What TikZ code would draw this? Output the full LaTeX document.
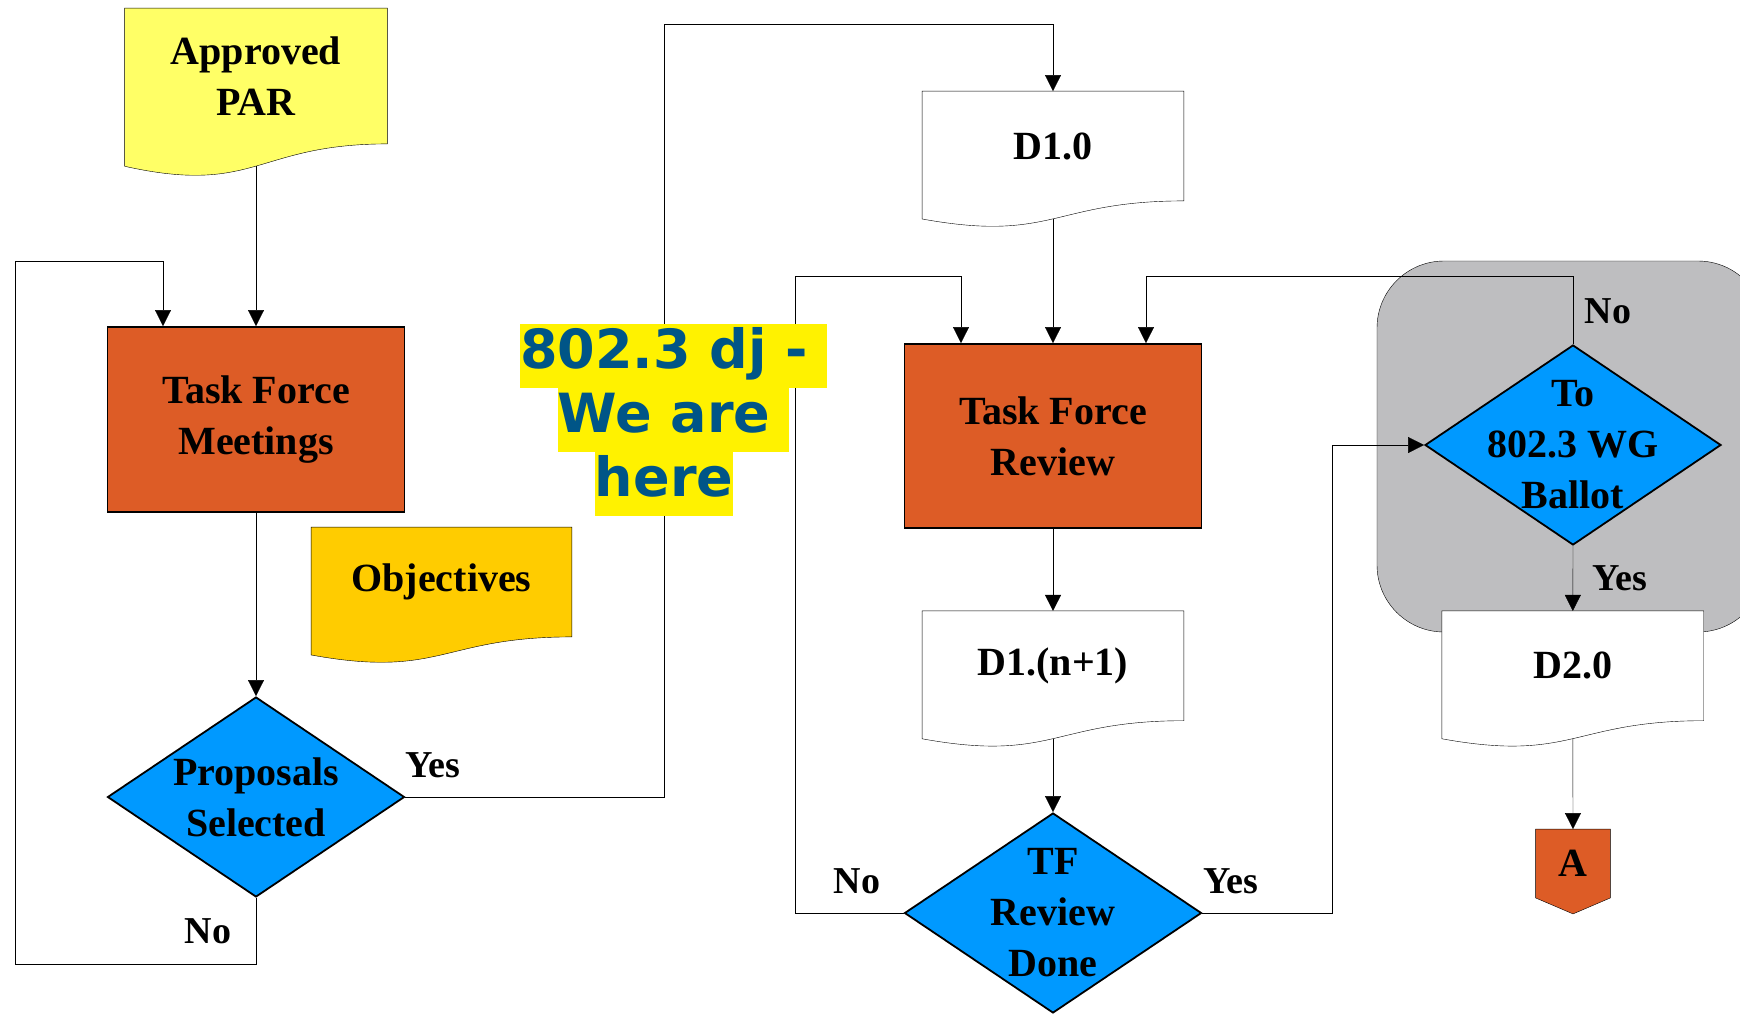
\documentclass[tikz,border=0pt]{standalone}
\usepackage{fontspec}
\setmainfont{Liberation Serif}
\newfontfamily\herefont{DejaVu Sans}
\usetikzlibrary{shapes.geometric, arrows.meta, positioning, calc, backgrounds}

\definecolor{parYellow}{RGB}{255,255,102}
\definecolor{objGold}{RGB}{255,204,0}
\definecolor{tfOrange}{RGB}{221,92,38}
\definecolor{decBlue}{RGB}{0,153,255}
\definecolor{wgGray}{RGB}{190,190,192}
\definecolor{hereBlue}{RGB}{0,85,135}

% document outline below a node, plus a foot coordinate
\newcommand\docwave[2]{%
  \path[draw, fill=#2] let \p1=(#1.north east), \p2=(#1.south west),
      \n1={\y1-\y2}, \n2={(\x1+\x2)/2} in
    (\x2,\y1) -- (\p1) -- (\x1,\y2)
    .. controls (\n2,\y2) and (\n2,\y2-0.381*\n1) .. (\x2,\y2-0.1646*\n1) -- cycle
    (\n2,\y2-0.163*\n1) coordinate (#1-foot);}
\newcommand\hl[1]{{\setlength\fboxsep{0pt}\colorbox{yellow}{\strut #1}}}

\begin{document}
\begin{tikzpicture}[
  x=1pt, y=-1pt,
  line width=1.8pt,
  >={Triangle[width=16pt,length=16pt]},
  body/.style={font=\bfseries\fontsize{40}{51}\selectfont, align=center},
  box/.style={body, rectangle, draw, fill=tfOrange, minimum width=297pt, minimum height=185pt},
  decide/.style={diamond, draw, fill=decBlue, minimum width=297pt, minimum height=200pt, inner sep=0pt},
  doc/.style={body, rectangle, minimum width=260pt, minimum height=108pt},
  lbl/.style={font=\bfseries\fontsize{38}{46}\selectfont, anchor=base},
  hereNote/.style={font=\herefont\bfseries\fontsize{54}{64}\selectfont, text=hereBlue, align=center, inner sep=0pt}]

  \useasboundingbox (0,0) rectangle (1740,1013);

  \node[doc, minimum width=261pt, minimum height=134pt] (par) at (256,76) {Approved\\PAR};
  \node[box] (tfm) at (256,419.5) {Task Force\\Meetings};
  \node[doc, minimum width=259pt] (obj) at (441.5,582) {Objectives};
  \node[decide, label={[body]center:{Proposals\\Selected}}] (sel) at (256,797) {};

  \node[doc] (d10) at (1053,146) {D1.0};
  \node[box, minimum height=184pt] (tfr) at (1053,436) {Task Force\\Review};
  \node[doc, below=82pt of tfr] (d1n) {D1.(n+1)};
  \node[decide, label={[body]center:{TF\\Review\\Done}}] (done) at (1053,913) {};

  \node[decide, minimum width=296pt, label={[body]center:{To\\802.3 WG\\Ballot}}] (wg) at (1573,445) {};
  \node[doc, right=258pt of d1n] (d20) {D2.0};
  \node[body, minimum width=73pt, minimum height=67pt, inner sep=0pt] (offA) at (1573,863.5) {A};

  \begin{pgfonlayer}{background}
    \draw[fill=wgGray, rounded corners=67pt] (1377,261) rectangle (1765,632);
    \docwave{par}{parYellow}
    \docwave{obj}{objGold}
    \docwave{d10}{white}
    \docwave{d1n}{white}
    \docwave{d20}{white}
    \draw[fill=tfOrange] (offA.north west) -- (offA.north east) -- (offA.south east)
      -- ($(offA.south)+(0,16)$) -- (offA.south west) -- cycle;
  \end{pgfonlayer}

  \draw[->] (par-foot) -- (tfm.north);
  \draw[->] (tfm.south) -- (sel.north);
  \draw[->] (sel.south) |- (15,964) -- (15,261) -| ([xshift=-93pt]tfm.north);
  \draw[->] (sel.east) -| (664,24) -| (d10.north);
  \draw[->] (d10-foot) -- (tfr.north);
  \draw[->] (tfr.south) -- (d1n.north);
  \draw[->] (d1n-foot) -- (done.north);
  \draw[->] (done.west) -| (795,276) -| ([xshift=-92pt]tfr.north);
  \draw[->] (done.east) -| (1332,445) -- (wg.west);
  \draw[->] (wg.north) -- (1573,276) -| ([xshift=93pt]tfr.north);
  \draw[->] (wg.south) -- (d20.north);
  \draw[->] (d20-foot) -- (offA.north);

  \node[lbl] (selYes) at (433,777) {Yes};
  \node[lbl] (selNo) at (208,943) {No};
  \node[lbl] (doneNo) at (857,893) {No};
  \node[lbl] (doneYes) at (1231,893) {Yes};
  \node[lbl] (wgNo) at (1608,323) {No};
  \node[lbl] (wgYes) at (1620,590) {Yes};

  \node[hereNote] (here) at (673.5,420) {\hl{802.3 dj -\ }\\\hl{We are\ }\\\hl{here}\hphantom{\ }};
\end{tikzpicture}
\end{document}
